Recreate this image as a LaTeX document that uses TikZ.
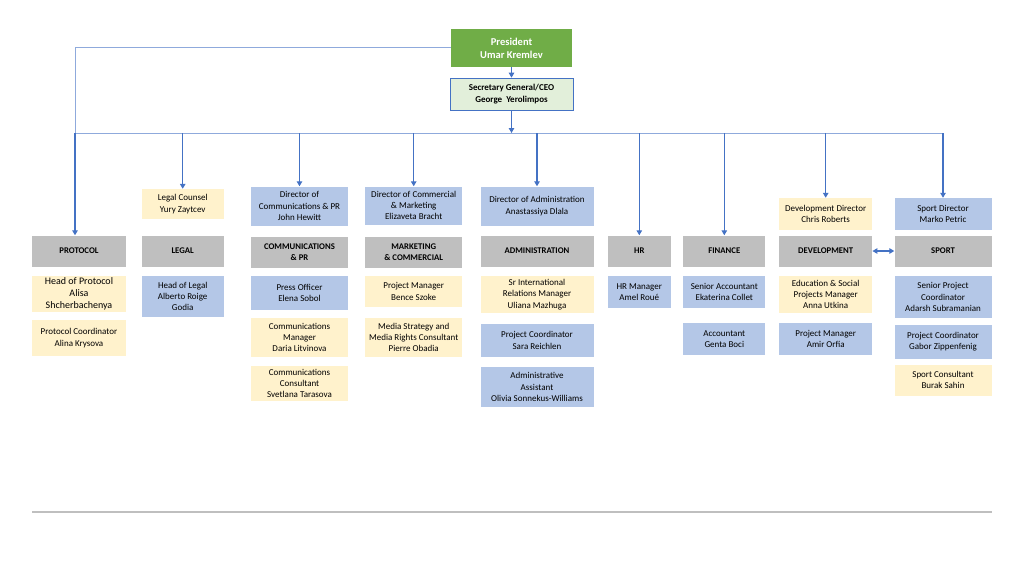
\documentclass[tikz,border=0pt]{standalone}
\usepackage{fontspec}
\setmainfont{Carlito}
\usetikzlibrary{positioning,calc,arrows.meta}
\definecolor{deptgray}{RGB}{191,191,191}
\definecolor{staffblue}{RGB}{180,199,231}
\definecolor{staffyellow}{RGB}{255,242,204}
\definecolor{presgreen}{RGB}{112,173,71}
\definecolor{secgreen}{RGB}{226,239,218}
\definecolor{arrowblue}{RGB}{68,114,196}
\definecolor{busblue}{RGB}{143,170,220}
\definecolor{rulegray}{RGB}{191,191,191}

\begin{document}
\begin{tikzpicture}[x=1pt,y=-1pt,>={Triangle[width=5.5pt,length=5pt]},
                box/.style={inner sep=0pt,align=center,font=\fontsize{9}{11.3}\selectfont},
                dept node/.style={box,fill=deptgray,font=\fontsize{8.7}{11.5}\selectfont\bfseries,minimum height=31pt},
                blue node/.style={box,fill=staffblue},
                yellow node/.style={box,fill=staffyellow},
                wd/.style={minimum width=#1pt},
                ht/.style={minimum height=#1pt},
                link/.style={->,draw=arrowblue,fill=arrowblue,line width=1.1pt},
                bus/.style={draw=busblue,line width=1pt}]
\useasboundingbox (0,0) rectangle (1024,576);
%Nodes
    \node[box, fill=presgreen, text=white, font=\fontsize{10.5}{13}\selectfont\bfseries, wd=121, ht=38] (pres) at (511.5,48) {President\\Umar Kremlev};
    \node[box, fill=secgreen, draw=arrowblue, line width=0.6pt, font=\fontsize{9}{12.5}\selectfont\bfseries, wd=123, ht=32] (sec) at (511.5,94) {Secretary General/CEO\\George\ \ Yerolimpos};

    % protocol
    \node[dept node, wd=94] (prot) at (79,251) {PROTOCOL};
    \node[yellow node, wd=94, ht=36, font=\fontsize{10}{12}\selectfont] (hop) at (79,294) {Head of Protocol\\Alisa\\Shcherbachenya};
    \node[yellow node, wd=94, ht=36] (pco) at (79,338) {Protocol Coordinator\\Alina Krysova};

    % legal
    \node[yellow node, wd=82, ht=30] (lc) at (182.7,204) {Legal Counsel\\Yury Zaytcev};
    \node[dept node, wd=82] (legal) at (182.7,251) {LEGAL};
    \node[blue node, wd=82, ht=41] (hol) at (182.7,296.5) {Head of Legal\\Alberto Roige\\Godia};

    % communications
    \node[blue node, wd=97, ht=39] (dcom) at (299.5,206) {Director of\\Communications \& PR\\John Hewitt};
    \node[dept node, wd=97] (com) at (299.5,252) {COMMUNICATIONS\\\& PR};
    \node[blue node, wd=97, ht=34] (po) at (299.5,293) {Press Officer\\Elena Sobol};
    \node[yellow node, wd=97, ht=39] (cm) at (299.5,337.5) {Communications\\Manager\\Daria Litvinova};
    \node[yellow node, wd=97, ht=35] (cc) at (299.5,383.5) {Communications\\Consultant\\Svetlana Tarasova};

    % marketing
    \node[blue node, wd=97, ht=38] (dmkt) at (413.7,205.5) {Director of Commercial\\\& Marketing\\Elizaveta Bracht};
    \node[dept node, wd=97] (mkt) at (413.7,252) {MARKETING\\\& COMMERCIAL};
    \node[yellow node, wd=97, ht=31] (mpm) at (413.7,291.5) {Project Manager\\Bence Szoke};
    \node[yellow node, wd=97, ht=39] (msc) at (413.7,337.5) {Media Strategy and\\Media Rights Consultant\\Pierre Obadia};

    % administration
    \node[blue node, wd=113, ht=39] (dadm) at (537,206) {Director of Administration\\Anastassiya Dlala};
    \node[dept node, wd=113] (adm) at (537,251) {ADMINISTRATION};
    \node[yellow node, wd=113, ht=37] (sir) at (537,294.5) {Sr International\\Relations Manager\\Uliana Mazhuga};
    \node[blue node, wd=113, ht=32.5] (apc) at (537,340.5) {Project Coordinator\\Sara Reichlen};
    \node[blue node, wd=113, ht=39.5] (aa) at (537,387) {Administrative\\Assistant\\Olivia Sonnekus-Williams};

    % hr
    \node[dept node, wd=63] (hr) at (639.3,251) {HR};
    \node[blue node, wd=63, ht=32] (hrm) at (639.3,292) {HR Manager\\Amel Roué};

    % finance
    \node[dept node, wd=82] (fin) at (724.3,251) {FINANCE};
    \node[blue node, wd=82, ht=32] (sa) at (724.3,292) {Senior Accountant\\Ekaterina Collet};
    \node[blue node, wd=82, ht=32] (acc) at (724.3,339) {Accountant\\Genta Boci};

    % development
    \node[yellow node, wd=93, ht=32] (dd) at (825.7,214) {Development Director\\Chris Roberts};
    \node[dept node, wd=93] (dev) at (825.7,251) {DEVELOPMENT};
    \node[yellow node, wd=93, ht=37] (esp) at (825.7,294.5) {Education \& Social\\Projects Manager\\Anna Utkina};
    \node[blue node, wd=93, ht=32] (dpm) at (825.7,339) {Project Manager\\Amir Orfia};

    % sport
    \node[blue node, wd=97, ht=32] (sd) at (943,214) {Sport Director\\Marko Petric};
    \node[dept node, wd=97] (sport) at (943,251) {SPORT};
    \node[blue node, wd=97, ht=42] (spc) at (943,297) {Senior Project\\Coordinator\\Adarsh Subramanian};
    \node[blue node, wd=97, ht=34] (gpc) at (943,341.5) {Project Coordinator\\Gabor Zippenfenig};
    \node[yellow node, wd=97, ht=31] (sc) at (943,380) {Sport Consultant\\Burak Sahin};

    \coordinate (pl) at (75,47);
    \coordinate (busy) at (511.5,133);

%Edges
    \draw[link] (pres) -- (sec);
    \draw[link] (sec) -- (busy);
    \draw[bus] (pres.west |- pl) -- (pl) -- (pl |- busy) -- (sd.north |- busy);
    \draw[link] (pl |- busy) -- (pl |- prot.north);
    \foreach \n in {lc,dcom,dmkt,dadm,hr,fin,dd,sd}
        \draw[link] (\n.north |- busy) -- (\n.north);
    \draw[link,<->] (dev.east) -- (sport.west);

    \draw[rulegray, line width=2.5pt] (32,512) -- (992,512);
\end{tikzpicture}
\end{document}
